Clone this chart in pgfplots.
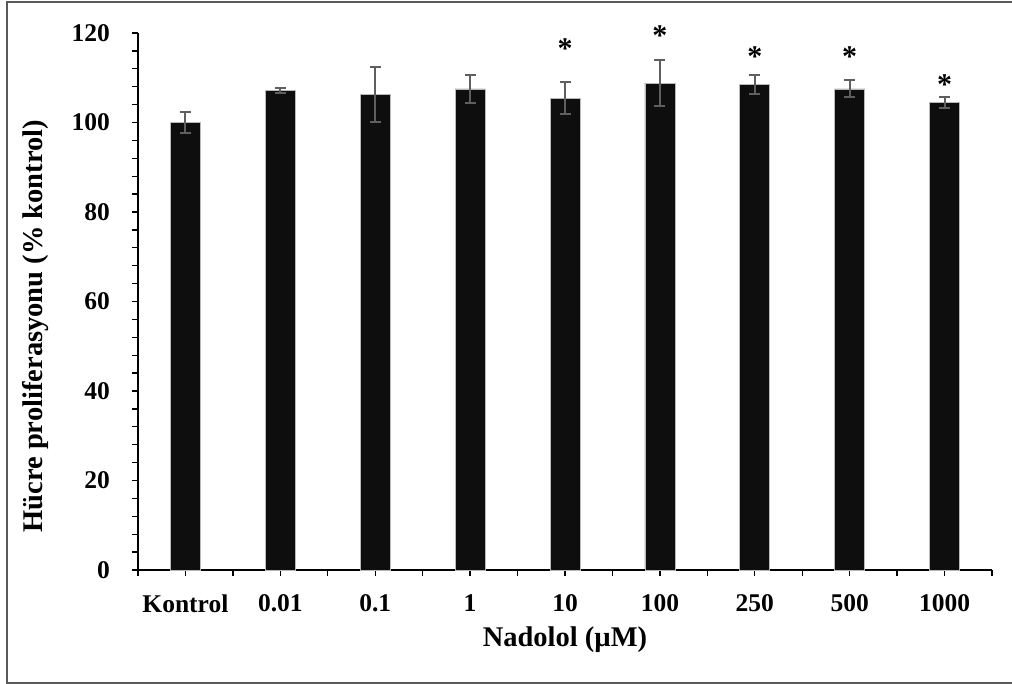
\documentclass[border=0pt]{standalone}
\usepackage{pgfplots}
\pgfplotsset{compat=1.18}
\usepackage{fontspec}
\setmainfont{Liberation Serif}
\definecolor{barblack}{RGB}{14,14,14}
\definecolor{errgray}{RGB}{95,95,95}
\definecolor{framegray}{RGB}{90,90,90}
\pgfplotstableread{
x y e
0 100.0 2.4
1 107.2 0.5
2 106.2 6.2
3 107.5 3.1
4 105.4 3.6
5 108.8 5.1
6 108.5 2.1
7 107.5 1.9
8 104.4 1.2
}\bardata
\pgfplotstableread{
x y
4 116.6
5 119.5
6 114.8
7 114.8
8 108.4
}\stardata
\begin{document}
\begin{tikzpicture}[x=1pt,y=1pt]
\useasboundingbox (0,0) rectangle (1012,684);
\draw[framegray, line width=1.2pt] (7,1) rectangle (1014,682);
\begin{axis}[
  at={(138pt,114pt)}, anchor=south west,
  scale only axis, width=854pt, height=537pt,
  xmin=-0.5, xmax=8.5, ymin=0, ymax=120,
  axis lines*=left,
  axis line style={line width=1.3pt, black},
  tick align=outside,
  xtick={0,...,8},
  xticklabels={Kontrol,0.01,0.1,1,10,100,250,500,1000},
  minor xtick={-0.5,0.5,...,8.5},
  ytick={0,20,...,120},
  minor y tick num=4,
  major tick length=6pt, minor tick length=6pt,
  tick style={line width=1.3pt, black},
  /pgf/number format/assume math mode=true,
  xticklabel style={font=\bfseries\fontsize{25.5}{30}\selectfont, anchor=center, inner sep=0pt, yshift=-27.5pt},
  yticklabel style={font=\bfseries\fontsize{25.5}{30}\selectfont, anchor=east, inner sep=0pt, xshift=-22pt},
  xlabel={Nadolol (µM)},
  ylabel={Hücre proliferasyonu (\% kontrol)},
  xlabel style={font=\bfseries\fontsize{28.5}{34}\selectfont, at={(axis description cs:0.5,-0.1304)}, anchor=center},
  ylabel style={font=\bfseries\fontsize{28.5}{34}\selectfont, at={(axis description cs:-0.1194,0.454)}, anchor=center},
  clip=false,
]
\addplot[ybar, bar width=30pt, fill=barblack, draw=gray!55, line width=0.6pt,
  error bars/.cd, y dir=both, y explicit,
  error bar style={line width=2pt, color=errgray},
  error mark options={rotate=90, mark size=5.5pt, line width=2pt, color=errgray}]
  table[x=x, y=y, y error=e] {\bardata};
\addplot[draw=none, mark=none,
  nodes near coords={\bfseries\fontsize{30}{32}\selectfont *},
  every node near coord/.append style={anchor=center, inner sep=0pt}]
  table[x=x, y=y] {\stardata};
\end{axis}
\end{tikzpicture}
\end{document}
